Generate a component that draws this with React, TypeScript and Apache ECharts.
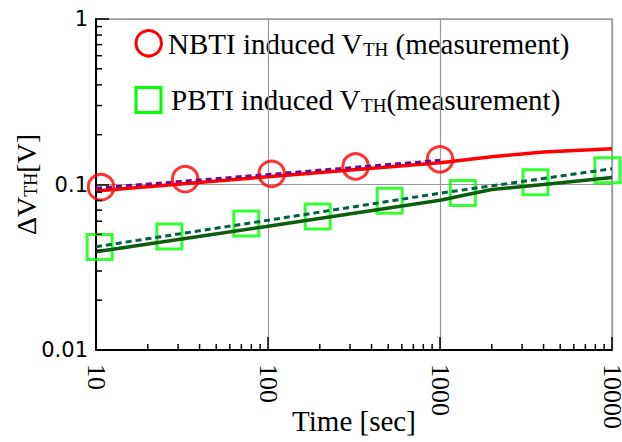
import React, { useEffect, useRef } from "react";
import * as echarts from "echarts";

const NBTI_TIME = [10.7, 33, 105, 323, 1000];
const NBTI_VTH = [0.0963, 0.1077, 0.116, 0.1286, 0.1419];
const PBTI_TIME = [10.5, 26.7, 74.8, 194.5, 510, 1358, 3590, 9400];
const PBTI_VTH = [0.0419, 0.0485, 0.0581, 0.064, 0.0798, 0.0888, 0.1032, 0.122];

// Solid / dashed model curves
const NBTI_FIT_TIME = [10, 100, 1000, 2000, 4000, 10000];
const NBTI_FIT = [0.0914, 0.1115, 0.1355, 0.1473, 0.1574, 0.1647];
const NBTI_MODEL_TIME = [10, 100, 1000];
const NBTI_MODEL = [0.095, 0.1149, 0.14];
const PBTI_FIT_TIME = [10, 100, 1000, 2000, 4000, 10000];
const PBTI_FIT = [0.0392, 0.056, 0.0804, 0.0933, 0.1, 0.1103];
const PBTI_MODEL_TIME = [10, 100, 1000, 10000];
const PBTI_MODEL = [0.0421, 0.0608, 0.0886, 0.1246];

const X_MIN = 10;
const X_MAX = 10000;
const Y_MIN = 0.01;
const Y_MAX = 1;

const SERIF = "Liberation Serif";

const zip = (xs: number[], ys: number[]) => xs.map((x, i) => [x, ys[i]]);

function minorValues(min: number, max: number): number[] {
  const out: number[] = [];
  for (let d = min; d < max; d *= 10) {
    for (let k = 2; k <= 9; k++) out.push(+(d * k).toPrecision(6));
  }
  return out;
}

const fmt = (v: number) => String(+v.toPrecision(6));

export default function App() {
  const ref = useRef<HTMLDivElement>(null);
  useEffect(() => {
    if (!ref.current) return;
    const chart = echarts.init(ref.current, null, { renderer: "svg" });
    const xMinor = minorValues(X_MIN, X_MAX).map((v) => [v, Y_MIN]);
    const yMinor = minorValues(Y_MIN, Y_MAX).map((v) => [X_MIN, v]);
    const legendRich = {
      sub: { fontFamily: SERIF, fontSize: 19, lineHeight: 14, verticalAlign: "bottom", fill: "#000" },
    };
    chart.setOption({
      animation: false,
      backgroundColor: "#fff",
      grid: {
        left: 96,
        top: 19,
        right: 10,
        bottom: 92,
        show: true,
        borderColor: "#999",
        borderWidth: 1.5,
        containLabel: false,
        outerBoundsMode: "none",
      },
      xAxis: {
        type: "log",
        logBase: 10,
        min: X_MIN,
        max: X_MAX,
        name: "Time [sec]",
        nameLocation: "middle",
        nameGap: 56,
        nameMoveOverlap: false,
        nameTextStyle: { fontFamily: SERIF, fontSize: 29, color: "#000" },
        axisLine: { show: true, onZero: false, lineStyle: { color: "#000", width: 2 } },
        axisTick: { show: true, inside: true, length: 13, lineStyle: { color: "#000", width: 1.5 } },
        axisLabel: {
          rotate: -90,
          margin: 14,
          fontFamily: SERIF,
          fontSize: 26,
          color: "#000",
          showMinLabel: true,
          showMaxLabel: true,
          hideOverlap: false,
          formatter: fmt,
        },
        splitLine: { show: true, lineStyle: { color: "#999", width: 1.2 } },
      },
      yAxis: {
        type: "log",
        logBase: 10,
        min: Y_MIN,
        max: Y_MAX,
        name: "ΔV{sub|TH}[V]",
        nameLocation: "middle",
        nameRotate: 90,
        nameGap: 56,
        nameMoveOverlap: false,
        nameTextStyle: {
          fontFamily: SERIF,
          fontSize: 28,
          lineHeight: 28,
          color: "#000",
          rich: {
            sub: { fontFamily: SERIF, fontSize: 18, lineHeight: 14, verticalAlign: "bottom", color: "#000" },
          },
        },
        axisLine: { show: true, onZero: false, lineStyle: { color: "#000", width: 2 } },
        axisTick: { show: true, inside: true, length: 13, lineStyle: { color: "#000", width: 1.5 } },
        axisLabel: {
          margin: 8,
          fontFamily: "DejaVu Sans",
          fontSize: 21,
          color: "#000",
          formatter: fmt,
        },
        splitLine: { show: true, lineStyle: { color: "#999", width: 1.2 } },
      },
      graphic: [
        {
          type: "circle",
          shape: { cx: 148.7, cy: 43.3, r: 12.7 },
          style: { fill: "none", stroke: "#ff0000", lineWidth: 3 },
        },
        {
          type: "text",
          x: 168,
          y: 44,
          style: {
            text: "NBTI induced V{sub|TH} (measurement)",
            fontFamily: SERIF,
            fontSize: 29,
            lineHeight: 29,
            fill: "#000",
            verticalAlign: "middle",
            rich: legendRich,
          },
        },
        {
          type: "rect",
          shape: { x: 136, y: 87.5, width: 25, height: 25 },
          style: { fill: "none", stroke: "#00ff00", lineWidth: 3 },
        },
        {
          type: "text",
          x: 171,
          y: 100,
          style: {
            text: "PBTI induced V{sub|TH}(measurement)",
            fontFamily: SERIF,
            fontSize: 29,
            lineHeight: 29,
            fill: "#000",
            verticalAlign: "middle",
            rich: legendRich,
          },
        },
      ],
      series: [
        {
          type: "custom",
          name: "xMinor",
          coordinateSystem: "cartesian2d",
          silent: true,
          clip: false,
          z: 5,
          data: xMinor,
          renderItem: (params: any, api: any) => {
            const p = api.coord([api.value(0), api.value(1)]);
            return {
              type: "line",
              shape: { x1: p[0], y1: p[1], x2: p[0], y2: p[1] - 6 },
              style: { stroke: "#000", lineWidth: 1.5 },
            };
          },
        },
        {
          type: "custom",
          name: "yMinor",
          coordinateSystem: "cartesian2d",
          silent: true,
          clip: false,
          z: 5,
          data: yMinor,
          renderItem: (params: any, api: any) => {
            const p = api.coord([api.value(0), api.value(1)]);
            return {
              type: "line",
              shape: { x1: p[0], y1: p[1], x2: p[0] + 6, y2: p[1] },
              style: { stroke: "#000", lineWidth: 1.5 },
            };
          },
        },
        {
          type: "scatter",
          name: "NBTI",
          data: zip(NBTI_TIME, NBTI_VTH),
          symbol: "circle",
          symbolSize: 25.5,
          itemStyle: { color: "rgba(0,0,0,0)", borderColor: "#ff0000", borderWidth: 3 },
          z: 2,
        },
        {
          type: "scatter",
          name: "PBTI",
          data: zip(PBTI_TIME, PBTI_VTH),
          symbol: "rect",
          symbolSize: 25,
          itemStyle: { color: "rgba(0,0,0,0)", borderColor: "#00ff00", borderWidth: 3 },
          z: 2,
        },
        {
          type: "line",
          name: "NBTI fit",
          data: zip(NBTI_FIT_TIME, NBTI_FIT),
          showSymbol: false,
          symbol: "none",
          lineStyle: { color: "#ff0000", width: 3.5 },
          z: 3,
        },
        {
          type: "line",
          name: "NBTI model",
          data: zip(NBTI_MODEL_TIME, NBTI_MODEL),
          showSymbol: false,
          symbol: "none",
          lineStyle: { color: "#800080", width: 3, type: [6, 4] },
          z: 4,
        },
        {
          type: "line",
          name: "PBTI fit",
          data: zip(PBTI_FIT_TIME, PBTI_FIT),
          showSymbol: false,
          symbol: "none",
          lineStyle: { color: "#0b5d0b", width: 3.5 },
          z: 3,
        },
        {
          type: "line",
          name: "PBTI model",
          data: zip(PBTI_MODEL_TIME, PBTI_MODEL),
          showSymbol: false,
          symbol: "none",
          lineStyle: { color: "#006040", width: 3, type: [6, 4] },
          z: 4,
        },
      ],
    });
    return () => chart.dispose();
  }, []);
  return <div ref={ref} style={{ width: 622, height: 442, position: "absolute", left: 0, top: 0 }} />;
}
